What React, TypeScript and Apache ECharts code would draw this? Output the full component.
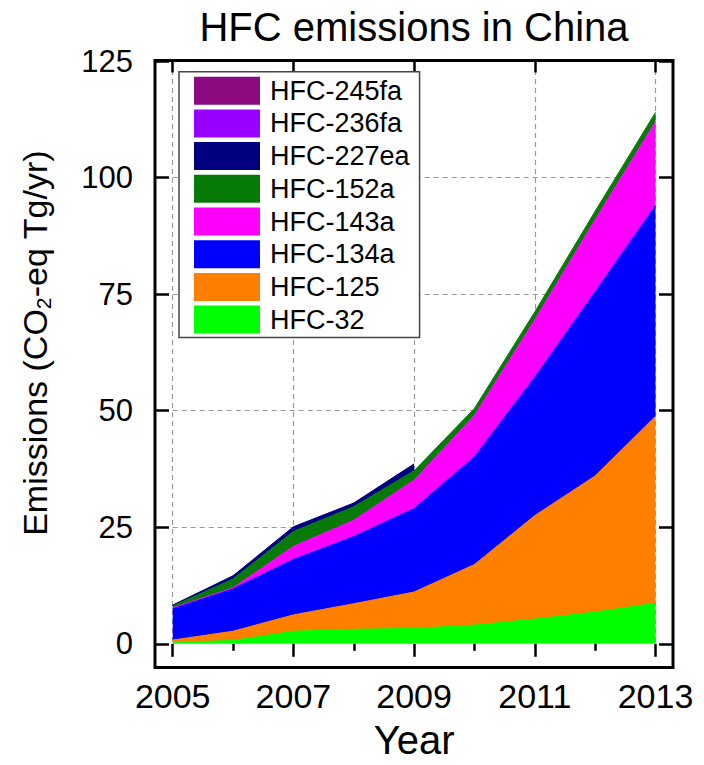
import React, { useEffect, useRef } from 'react';
import * as echarts from 'echarts';

const years = ['2005', '2006', '2007', '2008', '2009', '2010', '2011', '2012', '2013'];
const hfc32 = [0.3, 0.7, 2.7, 3.1, 3.3, 4.0, 5.3, 6.8, 8.7];
const hfc125 = [0.5, 2.0, 3.5, 5.5, 7.8, 13.0, 22.2, 29.2, 40.1];
const hfc134a = [6.8, 9.1, 11.9, 14.4, 17.9, 23.1, 29.7, 39.5, 45.2];
const hfc143a = [0.1, 0.2, 2.8, 3.5, 6.1, 8.9, 12.3, 15.5, 18.0];
const hfc152a = [0.4, 1.9, 3.2, 2.9, 2.0, 1.5, 1.7, 1.8, 2.0];
const hfc227ea = [0.2, 0.7, 1.0, 0.8, 1.5, null, null, null, null];
const hfc236fa = [null, null, null, null, null, null, null, null, null];
const hfc245fa = [null, null, null, null, null, null, null, null, null];

const seriesNames = ['HFC-32', 'HFC-125', 'HFC-134a', 'HFC-143a', 'HFC-152a', 'HFC-227ea', 'HFC-236fa', 'HFC-245fa'];
const seriesValues = [hfc32, hfc125, hfc134a, hfc143a, hfc152a, hfc227ea, hfc236fa, hfc245fa];
const seriesColors = ['#00FF00', '#FF8000', '#0000FF', '#FF00FF', '#087A08', '#000080', '#9900FF', '#8C0A80'];
const legendOrder = [...seriesNames].reverse();

const xMin = 2005;
const xMax = 2013;
const titleText = 'HFC emissions in China';
const xName = 'Year';
const FONT = '"Liberation Sans", Arial, Helvetica, sans-serif';

export default function App() {
  const ref = useRef<HTMLDivElement>(null);
  useEffect(() => {
    if (!ref.current) return;
    const chart = echarts.init(ref.current, undefined, { renderer: 'svg' });
    const tickStyle = { color: '#000', width: 2.5 };
    const dashed = { color: '#9a9a9a', type: [5, 4] as any, width: 1.2 };
    chart.setOption({
      animation: false,
      backgroundColor: '#fff',
      title: {
        text: titleText,
        left: 414,
        top: 7,
        padding: 0,
        textAlign: 'center',
        textStyle: { fontSize: 40, fontWeight: 'normal', color: '#000', fontFamily: FONT },
      },
      grid: { left: 172.7, right: 48.5, top: 61.1, bottom: 115.7, containLabel: false },
      legend: {
        data: legendOrder,
        orient: 'vertical',
        left: 179,
        top: 71.7,
        padding: [5, 10, 4, 15],
        itemWidth: 66,
        itemHeight: 28,
        itemGap: 4.7,
        icon: 'rect',
        backgroundColor: '#fff',
        borderColor: '#444',
        borderWidth: 1.5,
        selectedMode: false,
        textStyle: { fontSize: 27, color: '#000', fontFamily: FONT, lineHeight: 28, padding: [0, 0, 0, 5] },
        z: 5,
      },
      xAxis: [
        {
          type: 'category',
          data: years,
          boundaryGap: false,
          show: false,
        },
        {
          type: 'value',
          position: 'bottom',
          min: xMin,
          max: xMax,
          interval: 2,
          offset: 18.2,
          axisLine: { show: false },
          axisTick: { show: true, inside: false, length: 13, lineStyle: tickStyle },
          minorTick: { show: true, splitNumber: 2, length: 7, lineStyle: tickStyle },
          minorSplitLine: { show: false },
          axisLabel: { margin: 17, fontSize: 34, color: '#000', fontFamily: FONT, formatter: (v: number) => String(v) },
          splitLine: { show: true, showMinLine: true, showMaxLine: true, lineStyle: dashed },
          name: xName,
          nameLocation: 'middle',
          nameGap: 58,
          nameTextStyle: { fontSize: 40, color: '#000', fontFamily: FONT },
        },
        {
          type: 'value',
          position: 'top',
          min: xMin,
          max: xMax,
          interval: 2,
          offset: 0.6,
          axisLine: { show: false },
          axisTick: { show: true, inside: true, length: 12, lineStyle: tickStyle },
          axisLabel: { show: false },
          splitLine: { show: false },
        },
      ],
      yAxis: [
        {
          type: 'value',
          position: 'left',
          min: 0,
          max: 125,
          interval: 25,
          offset: 17.7,
          axisLine: { show: false },
          axisTick: { show: true, inside: true, length: 14, lineStyle: tickStyle },
          axisLabel: { margin: 22, fontSize: 31, color: '#000', fontFamily: FONT },
          splitLine: { show: true, showMinLine: false, showMaxLine: false, lineStyle: dashed },
        },
        {
          type: 'value',
          position: 'right',
          min: 0,
          max: 125,
          interval: 25,
          offset: 17.5,
          axisLine: { show: false },
          axisTick: { show: true, inside: true, length: 14, lineStyle: tickStyle },
          axisLabel: { show: false },
          splitLine: { show: false },
        },
      ],
      series: seriesNames.map((name, k) => ({
        name,
        type: 'line',
        stack: 'total',
        xAxisIndex: 0,
        yAxisIndex: 0,
        color: seriesColors[k],
        data: seriesValues[k],
        symbol: 'none',
        showSymbol: false,
        connectNulls: false,
        silent: true,
        lineStyle: { width: 1, color: seriesColors[k] },
        itemStyle: { color: seriesColors[k] },
        areaStyle: { color: seriesColors[k], opacity: 1 },
      })),
      graphic: [
        {
          type: 'rect',
          z: 100,
          silent: true,
          shape: { x: 155, y: 60.5, width: 518, height: 607 },
          style: { fill: 'none', stroke: '#000', lineWidth: 3 },
        },
        {
          type: 'text',
          x: 35,
          y: 343,
          rotation: Math.PI / 2,
          silent: true,
          style: {
            text: '{a|Emissions (CO}{b|2}{a|-eq Tg/yr)}',
            align: 'center',
            verticalAlign: 'middle',
            fill: '#000',
            rich: {
              a: { fontSize: 34, fontFamily: FONT, fill: '#000' },
              b: { fontSize: 21, fontFamily: FONT, fill: '#000', padding: [16, 0, 0, 0] },
            },
          },
        },
      ],
    });
    return () => chart.dispose();
  }, []);
  return (
    <div
      ref={ref}
      style={{ position: 'fixed', left: 0, top: 0, width: 704, height: 765, background: '#fff' }}
    />
  );
}
